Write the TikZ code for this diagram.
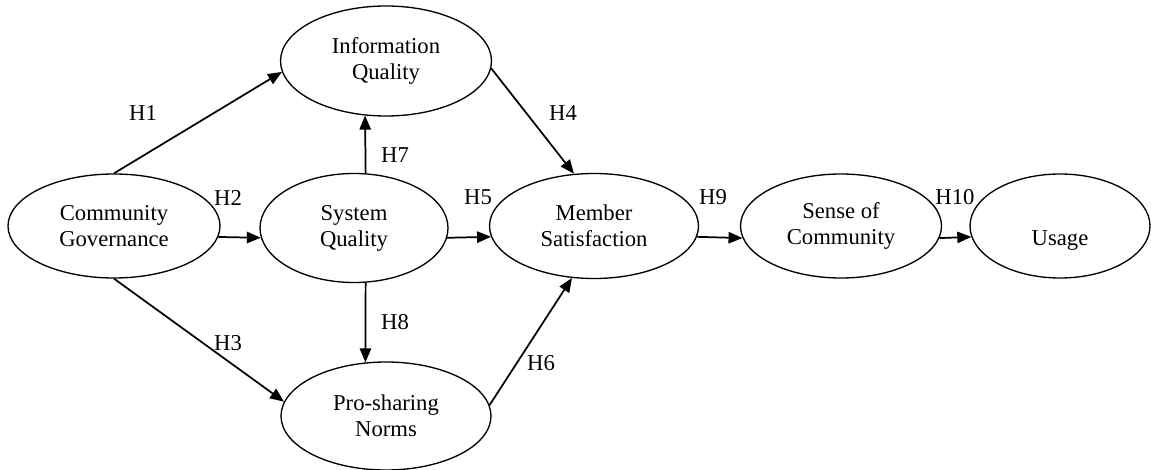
\documentclass[tikz,border=0pt]{standalone}
\usepackage{fontspec}
\setmainfont{Liberation Serif}
\usetikzlibrary{arrows.meta,shapes.geometric}
\begin{document}
\begin{tikzpicture}[x=0.75pt,y=-0.75pt,
  construct/.style={draw,ellipse,line width=1pt,inner sep=0pt,align=center,font=\fontsize{17}{19.5}\selectfont},
  link/.style={line width=1.3pt,-{Triangle[length=10.5pt,width=8.5pt]}},
  hyp/.style={font=\fontsize{17}{19.5}\selectfont,inner sep=0pt}]
\useasboundingbox (0,0) rectangle (1151,470);
\node[construct,minimum width=212*0.75pt,minimum height=104*0.75pt] (cg) at (114,226) {Community\\Governance};
\node[construct,minimum width=211*0.75pt,minimum height=110*0.75pt] (iq) at (386,61) {Information\\Quality};
\node[construct,minimum width=188*0.75pt,minimum height=109*0.75pt] (sq) at (354,228) {System\\Quality};
\node[construct,minimum width=209*0.75pt,minimum height=105*0.75pt] (ms) at (594,226) {Member\\Satisfaction};
\node[construct,minimum width=201*0.75pt,minimum height=104*0.75pt] (sc) at (841,226) {Sense of\\Community};
\node[construct,minimum width=180*0.75pt,minimum height=104*0.75pt] (us) at (1060,226) {\strut\\Usage};
\node[construct,minimum width=210*0.75pt,minimum height=108*0.75pt] (ps) at (386,416) {Pro-sharing\\Norms};

\draw[link] (cg.north) -- (iq.186);
\draw[link] (cg.-6.6) -- (sq.186.2);
\draw[link] (cg.south) -- (ps.172.4);
\draw[link] (iq.-4.9) -- (ms.111.6);
\draw[link] (sq.-6.2) -- (ms.186.7);
\draw[link] (ps.6.6) -- (ms.247.5);
\draw[link] (sq.78.5) -- (iq.-111.3);
\draw[link] (sq.-78.5) -- (ps.111.7);
\draw[link] (ms.-6.7) -- (sc.187);
\draw[link] (sc.-7) -- (us.187.8);

\node[hyp] (h1) at (143,113) {H1};
\node[hyp] (h2) at (228,198) {H2};
\node[hyp] (h3) at (228,343) {H3};
\node[hyp] (h4) at (563,113) {H4};
\node[hyp] (h5) at (478,197) {H5};
\node[hyp] (h6) at (541,363) {H6};
\node[hyp] (h7) at (395,155) {H7};
\node[hyp] (h8) at (395,322) {H8};
\node[hyp] (h9) at (713,197) {H9};
\node[hyp] (h10) at (955,197) {H10};
\end{tikzpicture}
\end{document}
